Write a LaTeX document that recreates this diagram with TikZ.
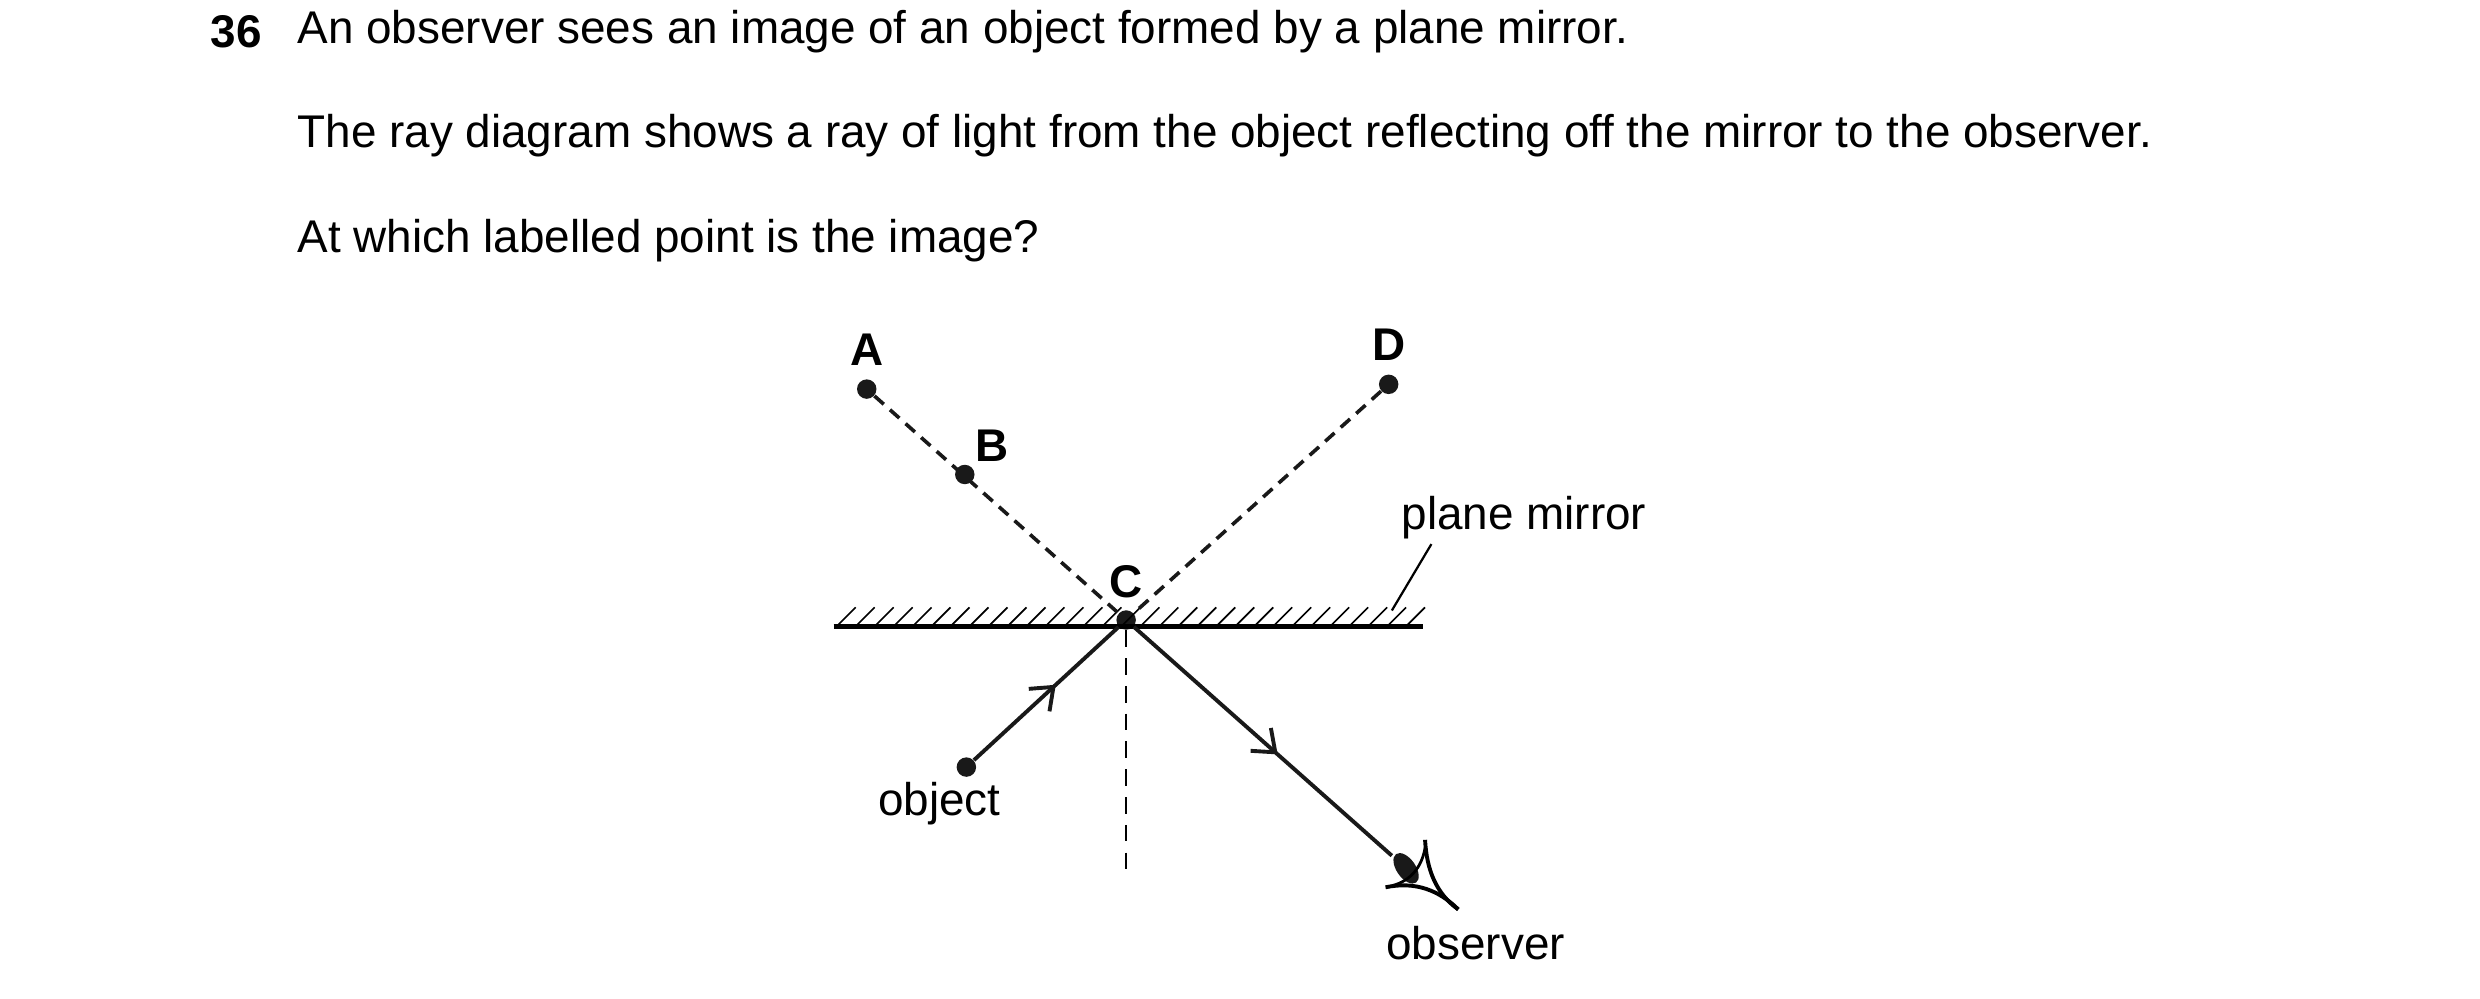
\documentclass[tikz,border=0pt]{standalone}
\usepackage{fontspec}
\setmainfont{Liberation Sans}
\usetikzlibrary{decorations.markings}
\begin{document}
\begin{tikzpicture}[x=0.02cm,y=-0.02cm,>=stealth,
  every node/.style={font=\fontsize{16.5}{19}\selectfont},
  lbl/.style={font=\fontsize{16.5}{19}\selectfont\bfseries},
  pt/.style={circle,fill=black!90,inner sep=0pt,minimum size=7pt},
  ray/.style={line width=1.4pt,black!90},
  virt/.style={line width=1.3pt,dash pattern=on 4.5pt off 3pt,black!90},
  mid arrow/.style={postaction={decorate},decoration={markings,
     mark=at position #1 with {\draw[line width=1.4pt] (-7pt,5.5pt) -- (0,0) -- (-7pt,-5.5pt);}}}]
  \useasboundingbox (0,0) rectangle (1568,631);
  % question text
  \node[anchor=west,font=\fontsize{16.5}{19}\selectfont\bfseries] (num) at (127,20) {36};
  \node[anchor=west] (q1) at (182,20) {An observer sees an image of an object formed by a plane mirror.};
  \node[anchor=west] (q2) at (182,86) {The ray diagram shows a ray of light from the object reflecting off the mirror to the observer.};
  \node[anchor=west] (q3) at (182,152) {At which labelled point is the image?};
  % points
  \node[pt] (A) at (548,246) {};
  \node[pt] (B) at (610,300) {};
  \node[pt] (D) at (878,243) {};
  \node[pt] (C) at (712,392) {};
  \node[pt] (obj) at (611,485) {};
  \coordinate (eye) at (880,541);
  \coordinate (nend) at (712,550);
  \node[lbl] at (548,221) {A};
  \node[lbl] at (627,282) {B};
  \node[lbl] at (712,368) {C};
  \node[lbl] at (878,218) {D};
  % mirror
  \draw[line width=1.8pt] (527,396) coordinate (ml) -- (900,396) coordinate (mr);
  \foreach \i in {0,...,30}
    \draw[line width=0.6pt] ({529+12*\i},396) -- ({541+12*\i},384);
  \node[anchor=west] (pm) at (880,327) {plane mirror};
  \coordinate (pmt) at (905,344);
  \coordinate (pmb) at (880,386);
  \draw[line width=0.8pt] (pmt) -- (pmb);
  % rays
  \draw[virt] (A) -- (C);
  \draw[virt] (D) -- (C);
  \draw[line width=0.8pt,dash pattern=on 6pt off 4pt] (C) -- (nend);
  \draw[ray,mid arrow=0.55] (obj) -- (C);
  \draw[ray,mid arrow=0.55] (C) -- (eye);
  \node (objl) at (594,508) {object};
  % eye
  \draw[line width=1.4pt] (901,531) .. controls (902,550) and (908,565) .. (922,575);
  \draw[line width=1.4pt] (876,561) .. controls (895,557) and (910,563) .. (922,575);
  \fill[black!90,rotate around={-55:(889,549)}] (889,549) ellipse (11 and 6);
  \draw[line width=1pt] (880,560) .. controls (892,557) and (899,548) .. (901,536);
  \node (obs) at (933,596) {observer};
\end{tikzpicture}
\end{document}
